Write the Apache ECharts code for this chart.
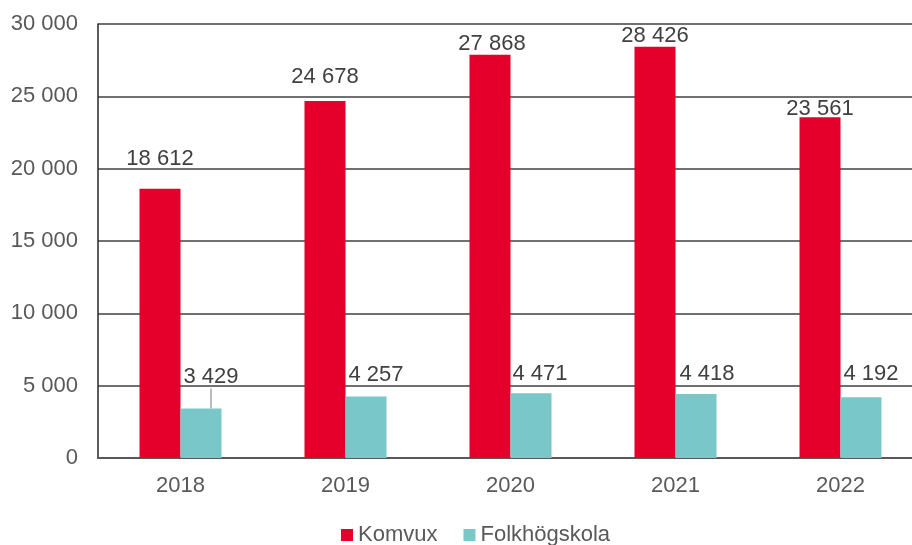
<!DOCTYPE html>
<html>
<head>
<meta charset="utf-8">
<script src="https://cdn.jsdelivr.net/npm/echarts@6/dist/echarts.min.js"></script>
<style>
  html, body { margin: 0; padding: 0; background: #fff; }
  #chart { width: 912px; height: 545px; }
</style>
</head>
<body>
<div id="chart"></div>
<script>
const years = ['2018', '2019', '2020', '2021', '2022']
const komvux = [18612, 24678, 27868, 28426, 23561]
const folkhogskola = [3429, 4257, 4471, 4418, 4192]

// manually moved data labels (as in the original), pixel shifts
const komvuxLabelShift = [[0, -15], [0, -9], [2, 4], [0, 4], [0, 7]]
const folkLabelShift = [[10, -16], [10, -6], [9, -4], [11, -5], [10, -8]]

function fmt(v) {
    return String(v).replace(/\B(?=(\d{3})+(?!\d))/g, ' ')
}

let myChart = echarts.init(document.getElementById('chart'))
myChart.setOption({
    animation: false,
    textStyle: { fontFamily: 'Liberation Sans, Arial, sans-serif' },
    grid: { left: 98, top: 24, width: 825, bottom: 87, outerBoundsMode: 'none' },
    legend: {
        top: 519,
        left: 336,
        itemWidth: 12,
        itemHeight: 12,
        itemGap: 26,
        icon: 'rect',
        textStyle: { fontSize: 22, color: '#595959' },
        data: ['Komvux', 'Folkhögskola']
    },
    xAxis: {
        type: 'category',
        data: years,
        axisTick: { show: false },
        axisLine: { lineStyle: { color: '#595959', width: 2 } },
        axisLabel: { fontSize: 22, color: '#595959', margin: 17 }
    },
    yAxis: {
        type: 'value',
        min: 0,
        max: 30000,
        interval: 5000,
        axisLine: { show: true, lineStyle: { color: '#262626', width: 1.5 } },
        splitLine: { lineStyle: { color: '#404040', width: 1.5 } },
        axisLabel: { fontSize: 22, color: '#595959', margin: 20, formatter: fmt }
    },
    series: [
        {
            name: 'Komvux',
            type: 'bar',
            data: komvux,
            barWidth: 41,
            barGap: '0%',
            itemStyle: { color: '#E4002B' },
            label: { show: true, position: 'top', distance: 4, fontSize: 22, color: '#404040', formatter: p => fmt(p.value) },
            labelLayout: function (p) {
                let s = komvuxLabelShift[p.dataIndex]
                return { dx: s[0], dy: s[1] }
            }
        },
        {
            name: 'Folkhögskola',
            type: 'bar',
            data: folkhogskola.map((v, i) => i === 0
                ? { value: v, labelLine: { show: true, lineStyle: { color: '#a6a6a6', width: 1.5 } } }
                : v),
            barWidth: 41,
            itemStyle: { color: '#79C7C9' },
            label: { show: true, position: 'top', distance: 4, fontSize: 22, color: '#404040', formatter: p => fmt(p.value) },
            labelLine: { show: false },
            labelLayout: function (p) {
                let s = folkLabelShift[p.dataIndex]
                return { dx: s[0], dy: s[1] }
            }
        }
    ]
})
</script>
</body>
</html>
